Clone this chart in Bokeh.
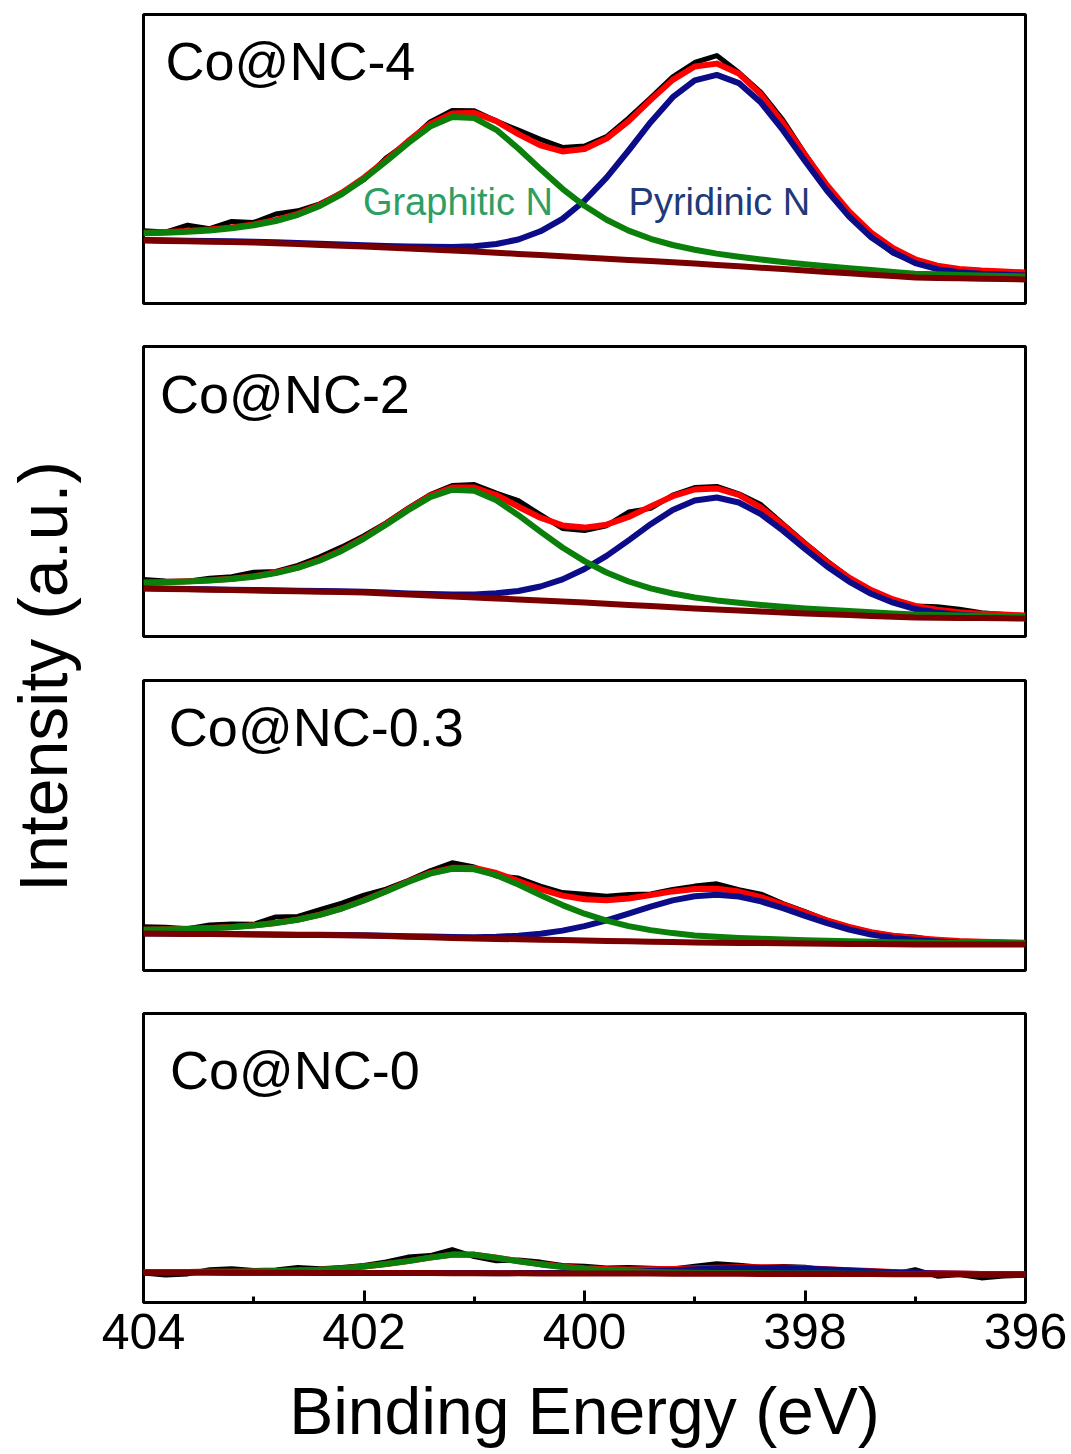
import math
from bokeh.plotting import figure
from bokeh.models import Range1d, FixedTicker
from bokeh.layouts import row, column
from bokeh.embed import file_html
from bokeh.resources import INLINE
from bokeh.core.properties import value

FONT = "Liberation Sans"

# Binding energy grid (eV)
energy = [404.0, 403.8, 403.6, 403.4, 403.2, 403.0, 402.8, 402.6, 402.4, 402.2,
          402.0, 401.8, 401.6, 401.4, 401.2, 401.0, 400.8, 400.6, 400.4, 400.2,
          400.0, 399.8, 399.6, 399.4, 399.2, 399.0, 398.8, 398.6, 398.4, 398.2,
          398.0, 397.8, 397.6, 397.4, 397.2, 397.0, 396.8, 396.6, 396.4, 396.2, 396.0]

tick_values = [404, 402, 400, 398, 396]
minor_tick_values = [403, 401, 399, 397]

samples = ["Co@NC-4", "Co@NC-2", "Co@NC-0.3", "Co@NC-0"]
peak_names = ["Graphitic N", "Pyridinic N"]

# ---- Co@NC-4 ----
raw_4 = [72.8, 71.4, 78.4, 74.9, 82.0, 81.1, 89.5, 92.7, 99.7, 110.8, 123.8, 145.5, 161.3, 181.6, 193.1, 192.8,
         182.4, 173.4, 164.2, 156.1, 157.5, 166.9, 185.3, 205.6, 226.6, 241.0, 247.9, 231.0, 211.1, 183.5, 149.7,
         117.3, 90.0, 66.8, 50.3, 41.2, 35.9, 33.6, 33.0, 30.0, 28.0]
bg_4 = [63, 62.6, 62.2, 61.8, 61.4, 61, 60.2, 59.4, 58.6, 57.8, 57, 56, 55, 54, 53, 52, 50.8, 49.6, 48.4, 47.2,
        46, 44.8, 43.6, 42.4, 41.2, 40, 38.6, 37.2, 35.8, 34.4, 33, 31.6, 30.2, 28.8, 27.4, 26, 25.6, 25.2, 24.8,
        24.4, 24]
graphitic_4 = [7.2, 8.2, 9.6, 11.3, 13.8, 17.3, 22.3, 29.3, 39.0, 51.7, 67.5, 86.0, 105.4, 122.9, 133.5, 133.5,
               122.9, 105.4, 86.0, 67.5, 51.7, 39.0, 29.3, 22.3, 17.3, 13.8, 11.3, 9.6, 8.2, 7.2, 6.3, 5.6, 5.0,
               4.6, 4.1, 3.8, 3.6, 3.4, 3.2, 3.1, 3.0]
pyridinic_4 = [0.6, 0.6, 0.6, 0.8, 0.8, 0.8, 1.0, 1.0, 1.1, 1.3, 1.3, 1.5, 1.9, 2.7, 3.6, 5.3, 8.7, 14.4, 23.8,
               37.4, 56.8, 81.1, 109.4, 138.9, 165.1, 183.2, 190.0, 183.2, 165.1, 138.9, 109.4, 81.1, 56.8, 37.4,
               23.8, 14.4, 8.7, 6.0, 5.0, 4.5, 4.0]

# ---- Co@NC-2 ----
raw_2 = [57.0, 55.5, 55.2, 58.3, 59.8, 64.2, 65.0, 71.2, 79.7, 89.6, 100.8, 113.7, 128.4, 141.9, 150.9, 151.9,
         143.5, 135.8, 121.8, 108.1, 105.9, 110.8, 124.5, 128.1, 141.3, 149.0, 150.1, 142.7, 131.9, 112.6, 93.6,
         75.5, 58.9, 45.4, 36.0, 30.5, 29.7, 27.2, 23.8, 22.0, 20.0]
bg_2 = [48, 47.6, 47.2, 46.8, 46.4, 46, 45.6, 45.2, 44.8, 44.4, 44, 43, 42, 41, 40, 39, 38, 37, 36, 35, 34, 32.8,
        31.6, 30.4, 29.2, 28, 27, 26, 25, 24, 23, 22.2, 21.4, 20.6, 19.8, 19, 18.8, 18.6, 18.4, 18.2, 18]
graphitic_2 = [5.7, 6.6, 7.7, 9.1, 11.0, 13.8, 17.8, 23.4, 31.2, 41.4, 54.0, 68.8, 84.3, 98.3, 106.8, 106.8, 98.3,
               84.3, 68.8, 54.0, 41.4, 31.2, 23.4, 17.8, 13.8, 11.0, 9.1, 7.7, 6.6, 5.7, 5.1, 4.5, 4.0, 3.7, 3.2,
               3.0, 2.7, 2.5, 2.3, 2.2, 1.9]
pyridinic_2 = [0.3, 0.3, 0.3, 0.4, 0.4, 0.4, 0.6, 0.6, 0.7, 0.8, 0.8, 0.9, 1.1, 1.6, 2.1, 3.1, 5.2, 8.5, 14.0, 22.1,
               33.5, 47.8, 64.5, 81.9, 97.3, 108.0, 112.0, 108.0, 97.3, 81.9, 64.5, 47.8, 33.5, 22.1, 14.0, 8.5,
               5.2, 3.1, 2.1, 1.6, 1.1]

# ---- Co@NC-0.3 ----
raw_03 = [43.8, 43.2, 41.7, 45.5, 46.5, 46.2, 53.6, 54.0, 60.9, 67.3, 75.3, 81.4, 90.0, 99.6, 107.7, 103.5, 94.5,
          92.5, 84.4, 77.9, 76.2, 74.3, 76.0, 76.5, 81.1, 84.4, 86.7, 80.9, 76.4, 67.0, 58.9, 50.2, 43.6, 38.3,
          34.8, 33.5, 29.8, 27.4, 28.7, 28.2, 27.0]
bg_03 = [37, 36.8, 36.6, 36.4, 36.2, 36, 35.8, 35.6, 35.4, 35.2, 35, 34.4, 33.8, 33.2, 32.6, 32, 31.6, 31.2, 30.8,
         30.4, 30, 29.6, 29.2, 28.8, 28.4, 28, 27.8, 27.6, 27.4, 27.2, 27, 26.8, 26.6, 26.4, 26.2, 26, 26, 26, 26,
         26, 26]
graphitic_03 = [3.7, 4.3, 5.0, 5.9, 7.1, 9.0, 11.6, 15.2, 20.2, 26.8, 35.0, 44.6, 54.7, 63.7, 69.2, 69.2, 63.7,
                54.7, 44.6, 35.0, 26.8, 20.2, 15.2, 11.6, 9.0, 7.1, 5.9, 5.0, 4.3, 3.7, 3.3, 2.9, 2.6, 2.4, 2.1,
                2.0, 1.8, 1.6, 1.5, 1.4, 1.3]
pyridinic_03 = [0.1, 0.1, 0.1, 0.2, 0.2, 0.2, 0.2, 0.2, 0.3, 0.3, 0.3, 0.4, 0.5, 0.7, 0.9, 1.3, 2.2, 3.6, 6.0, 9.5,
                14.4, 20.5, 27.6, 35.1, 41.7, 46.3, 48.0, 46.3, 41.7, 35.1, 27.6, 20.5, 14.4, 9.5, 6.5, 4.5, 3.0,
                1.8, 1.2, 0.8, 0.5]

# ---- Co@NC-0 ----
raw_0 = [29.5, 27.6, 28.6, 32.7, 33.8, 32.1, 32.4, 35.0, 33.8, 35.1, 37.0, 40.5, 45.4, 46.9, 52.9, 45.9, 41.8,
         42.4, 40.4, 37.1, 36.2, 34.4, 35.0, 34.2, 33.6, 36.2, 38.7, 37.2, 35.2, 35.9, 35.2, 32.3, 32.3, 29.4,
         28.4, 32.8, 26.3, 28.0, 24.6, 26.5, 27.3]
bg_0 = [30.0, 30.0, 29.9, 29.9, 29.8, 29.8, 29.7, 29.7, 29.6, 29.6, 29.5, 29.5, 29.4, 29.4, 29.3, 29.3, 29.2, 29.2,
        29.1, 29.1, 29.0, 29.0, 28.9, 28.9, 28.8, 28.8, 28.7, 28.7, 28.6, 28.6, 28.5, 28.5, 28.4, 28.4, 28.3, 28.3,
        28.2, 28.2, 28.1, 28.1, 28.0]
graphitic_0 = [0.5, 0.6, 0.7, 0.8, 1.0, 1.3, 1.7, 2.3, 3.2, 4.5, 6.5, 9.0, 12.0, 15.5, 18.5, 18.5, 15.5, 12.0, 9.0,
               6.5, 4.5, 3.2, 2.3, 1.7, 1.3, 1.0, 0.8, 0.7, 0.6, 0.5, 0.5, 0.4, 0.4, 0.4, 0.3, 0.3, 0.3, 0.3, 0.2,
               0.2, 0.2]
pyridinic_0 = [0.0, 0.0, 0.0, 0.0, 0.0, 0.0, 0.0, 0.0, 0.0, 0.0, 0.0, 0.0, 0.0, 0.0, 0.1, 0.1, 0.1, 0.2, 0.3, 0.5,
               0.8, 1.2, 1.8, 2.6, 3.5, 4.4, 5.2, 5.8, 6.0, 5.8, 5.2, 4.4, 3.5, 2.6, 1.8, 1.2, 0.8, 0.5, 0.3, 0.2,
               0.1]

panel_data = [
    (raw_4, bg_4, graphitic_4, pyridinic_4),
    (raw_2, bg_2, graphitic_2, pyridinic_2),
    (raw_03, bg_03, graphitic_03, pyridinic_03),
    (raw_0, bg_0, graphitic_0, pyridinic_0),
]

# ---- layout / style (not data) ----
frame_h = [289, 290, 290, 289]
border_top = [14, 21, 22, 21]
border_bottom = [22, 22, 22, 152]
label_pos = [(403.80, 243), (403.85, 243), (403.77, 244), (403.76, 233)]

C_RAW = "#000000"
C_FIT = "#ff0000"
C_GRA = "#0a7f0a"
C_PYR = "#0c0c88"
C_BG = "#7a0000"

figs = []
for i, (raw, bg, gra, pyr) in enumerate(panel_data):
    last = i == 3
    p = figure(width=971, height=border_top[i] + frame_h[i] + border_bottom[i],
               x_range=Range1d(404, 396), y_range=Range1d(0, frame_h[i]),
               output_backend="svg", toolbar_location=None,
               min_border_left=43, min_border_right=46,
               min_border_top=border_top[i], min_border_bottom=border_bottom[i],
               x_axis_location="below" if last else None, y_axis_location=None)
    p.grid.visible = False
    p.outline_line_color = "black"
    p.outline_line_width = 3
    p.background_fill_color = "white"
    p.border_fill_color = "white"

    gra_line = [b + g for b, g in zip(bg, gra)]
    pyr_line = [b + q for b, q in zip(bg, pyr)]
    env_line = [b + g + q for b, g, q in zip(bg, gra, pyr)]

    p.line(energy, raw, line_color=C_RAW, line_width=5, line_join="round")
    p.line(energy, env_line, line_color=C_FIT, line_width=6, line_join="round")
    p.line(energy, pyr_line, line_color=C_PYR, line_width=6, line_join="round")
    p.line(energy, gra_line, line_color=C_GRA, line_width=6, line_join="round")
    p.line(energy, bg, line_color=C_BG, line_width=6, line_join="round")

    lx, ly = label_pos[i]
    p.text(x=[lx], y=[ly], text=[samples[i]], text_font=value(FONT), text_font_size="54px",
           text_color="black", text_align="left", text_baseline="alphabetic")

    if i == 0:
        p.text(x=[402.01], y=[102], text=[peak_names[0]], text_font=value(FONT), text_font_size="38px",
               text_color="#2e9e62", text_align="left", text_baseline="alphabetic")
        p.text(x=[399.60], y=[102], text=[peak_names[1]], text_font=value(FONT), text_font_size="38px",
               text_color="#1f3a78", text_align="left", text_baseline="alphabetic")

    if last:
        ax = p.xaxis[0]
        ax.ticker = FixedTicker(ticks=tick_values, minor_ticks=minor_tick_values)
        ax.major_tick_in = 12
        ax.major_tick_out = 0
        ax.minor_tick_in = 6
        ax.minor_tick_out = 0
        ax.major_tick_line_width = 3
        ax.minor_tick_line_width = 3
        ax.axis_line_width = 3
        ax.major_label_text_font = FONT
        ax.major_label_text_font_size = "50px"
        ax.major_label_text_color = "black"
        ax.major_label_standoff = 11
        ax.axis_label = "Binding Energy (eV)"
        ax.axis_label_text_font = FONT
        ax.axis_label_text_font_size = "66px"
        ax.axis_label_text_font_style = "normal"
        ax.axis_label_text_color = "black"
        ax.axis_label_standoff = 22
    figs.append(p)

# y-axis title column
yl = figure(width=100, height=1454, x_range=Range1d(0, 100), y_range=Range1d(0, 1454),
            output_backend="svg", toolbar_location=None, min_border=0,
            min_border_left=0, min_border_right=0, min_border_top=0, min_border_bottom=0,
            x_axis_location=None, y_axis_location=None)
yl.grid.visible = False
yl.outline_line_color = None
yl.text(x=[42], y=[1454 - 676], text=["Intensity (a.u.)"], angle=math.pi / 2,
        text_font=value(FONT), text_font_size="68px", text_color="black",
        text_align="center", text_baseline="middle")

layout = row(yl, column(*figs, spacing=0), spacing=0)
open("out.html", "w").write(file_html(layout, INLINE))
